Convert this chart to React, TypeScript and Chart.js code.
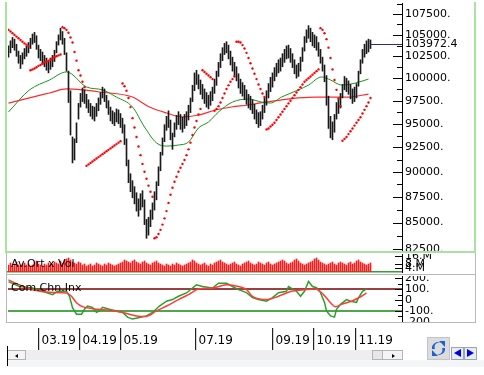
import React, { useEffect, useRef } from 'react';
import { Chart, registerables } from 'chart.js';
Chart.register(...registerables);

const FONT = '"DejaVu Sans", Verdana, sans-serif';
const X_MIN = -0.25;
const X_MAX = 196.75;

// ---- data ----
const monthTickIndex = [15.25, 35.75, 56.25, 93.75, 132.25, 152.75, 173.75];
const monthLabels = ['03.19', '04.19', '05.19', '07.19', '09.19', '10.19', '11.19'];

const priceHigh = [
  103700,104300,104700,104500,103900,103100,102600,102900,103400,103700,
  104100,104600,105100,105300,104900,103800,103300,103000,102600,102300,
  101900,102300,102600,103200,104200,105000,105800,105400,104600,102900,
  100800,98600,93600,93400,95100,97200,98300,98900,98700,98200,
  97600,97200,96900,96800,97200,97800,98400,99000,98800,98100,
  97500,96800,96400,96200,96600,96500,96100,95600,94900,93400,
  91200,89800,89100,88500,87900,87300,87800,88100,87200,85300,
  85500,86200,86900,88000,89000,90500,92000,93500,94900,95800,
  96400,95400,94000,95100,95900,96300,96000,95700,96000,96300,
  97000,97800,99200,100600,100900,100400,99800,99300,98800,98400,
  98100,98500,99000,99900,100800,101800,102800,103500,104000,104200,
  103800,103100,102400,101800,101300,100500,99900,99500,99200,98700,
  98200,98000,97600,97100,96500,96200,96300,97000,97800,98600,
  99400,100100,100600,101200,101700,102100,102300,102800,103300,103700,
  103800,103400,102800,102100,101500,101700,102400,103500,104800,105600,
  106100,105800,105300,105000,104800,104100,103300,102400,101500,100300,
  98000,95800,95200,96000,97300,97800,98300,99300,100200,100000,
  99700,99300,98800,99000,99400,100800,102100,103300,103900,104300,
  104500,104400,
];
const priceLow = [
  102400,102900,103500,103200,102500,101700,101100,101600,102200,102500,
  102900,103400,103900,104100,103300,102300,102000,101600,101300,100900,
  100600,101000,101300,101900,102900,103800,104400,103900,102700,100800,
  97300,93800,90900,91200,93000,95500,96800,97400,97200,96700,
  96200,95800,95500,95300,95800,96400,97100,97800,97400,96700,
  96000,95300,95000,94800,95200,95000,94600,94000,92800,90600,
  88900,88000,87400,86800,86100,85600,86200,86500,84800,83500,
  83800,84600,85300,86200,87200,88600,90100,91700,93100,94300,
  94600,93300,92300,93600,94400,94900,94400,94100,94500,94800,
  95400,96200,97400,98600,99300,98800,98200,97700,97200,96800,
  96600,97000,97500,98300,99200,100200,101200,102000,102700,102900,
  102200,101500,100800,100200,99700,98900,98300,98000,97600,97100,
  96700,96500,96100,95500,95000,94600,94800,95500,96200,97000,
  97800,98500,99000,99700,100200,100600,100800,101300,101800,102200,
  102300,101800,101200,100500,100000,100200,100800,101900,103100,104100,
  104600,104200,103700,103500,103200,102500,101700,100800,99600,97000,
  94500,93500,93300,94100,95500,96100,96700,97800,98700,98500,
  98200,97700,97200,97400,97800,99100,100500,101700,102400,102800,
  103000,103400,
];
const sarValues = [
  105600,105400,105200,105000,104800,104600,104400,104200,104000,103850,103700,
  100900,101000,101100,101250,101400,101500,101650,101800,101900,102000,102100,102250,102400,102500,102600,102700,
  105900,105800,105600,105250,104700,104100,103000,102000,100900,100300,99600,99000,
  90600,90750,90900,91050,91200,91350,91500,91650,91800,91950,92100,92250,92400,92550,92700,92850,93000,93150,
  99400,99100,98600,97800,96800,95600,94600,93600,92600,91700,90800,90000,89300,88600,88000,87500,
  83500,83600,83900,84300,84800,85400,86100,86900,87700,88400,89000,89500,90000,90400,90800,91200,91700,92300,93000,93800,94600,95300,96000,96600,
  100900,100700,100500,100300,100100,99900,
  96400,96600,96900,97300,97800,98300,98800,99200,99600,99900,100200,
  104200,104200,104100,103800,103400,102900,102300,101700,101100,100500,99900,99300,98800,98300,97900,
  94400,94500,94700,94900,95100,95400,95700,96000,96300,96600,96900,97200,97500,97800,98100,98400,98700,99000,99300,99600,99800,100000,100200,100400,100600,100800,101000,
  105800,105600,105200,104500,103500,102300,101000,99800,98700,97700,96900,
  93200,93400,93600,93900,94200,94500,94800,95100,95400,95700,96100,96500,96900,97300,97800,
];
const maGreenIdx = [0, 10.5, 20.5, 29, 39, 47, 54, 62, 68, 74, 79, 85, 90, 95, 100, 105, 112, 120, 126.5, 131, 136.5, 145, 150, 156.5, 161, 166.5, 173.5, 180];
const maGreenVal = [96270, 98690, 99800, 100710, 99020, 98690, 97900, 96810, 94650, 92970, 92640, 92750, 93060, 94550, 95190, 96270, 97350, 97680, 97350, 97240, 97900, 98690, 99230, 100140, 99800, 99230, 99460, 99910];
const maRedIdx = [0, 12, 20.5, 29, 37, 45.5, 62, 70.5, 79, 87, 95, 103.5, 111.5, 120, 128.5, 136.5, 145, 153.5, 161.5, 170, 180];
const maRedVal = [97240, 97900, 98350, 98800, 98690, 98460, 97900, 96810, 96160, 95730, 95940, 96480, 96810, 97030, 97350, 97580, 97800, 97900, 97900, 97900, 98230];
const volumeM = [
  7,9,6,8,10,7,6,8,9,7,
  8,6,7,9,11,8,7,6,8,7,
  9,7,8,10,9,8,11,9,12,13,
  14,12,10,9,8,10,9,7,8,6,
  7,8,6,7,9,8,7,6,8,7,
  9,8,7,6,7,8,9,10,12,11,
  10,9,11,12,10,9,8,10,11,9,
  8,7,9,10,11,9,8,7,6,8,
  7,6,8,7,9,8,7,6,7,8,
  9,10,12,11,9,8,7,8,9,7,
  6,8,7,9,10,11,12,10,9,8,
  7,8,9,10,8,7,6,8,9,10,
  11,9,8,7,8,10,9,8,7,9,
  10,8,7,8,9,10,11,12,11,9,
  8,9,10,12,13,11,9,8,7,8,
  9,10,11,13,14,12,10,9,8,7,
  8,9,10,8,7,9,10,9,8,7,
  9,10,8,9,11,12,10,9,8,7,
  8,9,
];
const cciIdx = [0, 5.5, 12, 17, 22, 24.5, 29, 30.5, 32, 34, 36.5, 38, 39.5, 42, 44, 45.5, 47, 50.5, 54, 57, 59.5, 62, 65.5, 69, 72, 75.5, 79, 82, 85, 89, 92, 94, 97, 102, 105, 109, 112, 115, 119, 122, 125, 129, 132, 135, 139, 140, 144, 146, 148, 150, 152, 154, 156, 158, 159, 161, 163, 164, 166, 169, 171, 174, 175, 177, 179];
const cciVal = [168, 123, 109, 79, 49, 79, 79, 34, -70, -129, -129, -85, -55, -67, -112, -100, -67, -85, -100, -112, -156, -174, -159, -145, -114, -55, -11, 4, 34, 64, 109, 138, 123, 109, 153, 153, 123, 94, 67, 22, 4, -11, 22, 67, 79, 123, 79, 34, 79, 168, 123, 112, 67, -22, -100, -145, -156, -85, -40, 4, -11, -22, 20, 79, 100];
const cciMaIdx = [0, 5.5, 12, 20.5, 29, 31.5, 34, 37, 42, 50.5, 57, 64, 69, 74, 79, 85, 90, 95, 102, 109, 115, 119, 122, 129, 135, 141.5, 148.5, 153.5, 157.5, 161, 163.5, 166.5, 171.5, 176.5, 179];
const cciMaVal = [183, 138, 94, 70, 64, 34, -25, -61, -79, -94, -114, -145, -150, -100, -55, 4, 49, 100, 109, 138, 123, 94, 34, 4, 34, 79, 94, 100, 49, -25, -61, -40, -11, 34, 64];

const priceTicks = [82500, 85000, 87500, 90000, 92500, 95000, 97500, 100000, 102500, 105000, 107500];
const priceMinorTicks = [83750, 86250, 88750, 91250, 93750, 96250, 98750, 101250, 103750, 106250, 108750];
const lastPrice = 103972.4;
const volTicks = [4, 8, 16];
const cciTicks = [-200, -100, 0, 100, 200];
const cciMinorTicks = [-150, -50, 50, 150];
const cciLevels = [100, -100];

// ---- plugins ----
const innerTicksPlugin = {
  id: 'innerTicks',
  afterDraw(chart: any, _args: any, opts: any) {
    if (!opts || !opts.major) return;
    const s = chart.scales.y;
    const ctx = chart.ctx;
    const x = chart.chartArea.right;
    ctx.save();
    ctx.strokeStyle = '#000';
    ctx.lineWidth = 1;
    const draw = (vals: number[], len: number) => {
      for (const v of vals) {
        const y = Math.round(s.getPixelForValue(v)) + 0.5;
        ctx.beginPath();
        ctx.moveTo(x - len, y);
        ctx.lineTo(x, y);
        ctx.stroke();
      }
    };
    draw(opts.major, opts.majorLen || 9);
    draw(opts.minor || [], opts.minorLen || 5);
    ctx.restore();
  },
};

const lastPricePlugin = {
  id: 'lastPrice',
  afterDraw(chart: any, _args: any, opts: any) {
    if (!opts || opts.value == null) return;
    const ctx = chart.ctx;
    const y = Math.round(chart.scales.y.getPixelForValue(opts.value)) + 0.5;
    const x0 = chart.scales.x.getPixelForValue(opts.index);
    const x1 = chart.chartArea.right;
    ctx.save();
    ctx.strokeStyle = '#2b2b8f';
    ctx.lineWidth = 1;
    ctx.beginPath();
    ctx.moveTo(x0, y);
    ctx.lineTo(x1, y);
    ctx.stroke();
    ctx.font = '11px ' + FONT;
    const text = opts.text;
    const w = ctx.measureText(text).width;
    ctx.fillStyle = '#fff';
    ctx.fillRect(x1 + 2, y - 6, w + 4, 12);
    ctx.fillStyle = '#000';
    ctx.textBaseline = 'middle';
    ctx.fillText(text, x1 + 3, y);
    ctx.restore();
  },
};

function xAxis(): any {
  return { type: 'linear', min: X_MIN, max: X_MAX, display: false, offset: false };
}

function rightAxis(extra: any): any {
  const { ticks, ...rest } = extra;
  return {
    position: 'right',
    grid: { display: true, drawOnChartArea: false, drawTicks: false },
    border: { display: true, color: '#000', width: 1 },
    ticks: { font: { family: FONT, size: 11 }, color: '#000', padding: 3, autoSkip: false, maxRotation: 0, ...(ticks || {}) },
    afterFit: (s: any) => { s.width = 74; s.paddingTop = 0; s.paddingBottom = 0; },
    ...rest,
  };
}

const baseOpts: any = {
  responsive: false,
  animation: false,
  devicePixelRatio: 1,
  events: [],
};

export default function App() {
  const priceRef = useRef<HTMLCanvasElement>(null);
  const volRef = useRef<HTMLCanvasElement>(null);
  const cciRef = useRef<HTMLCanvasElement>(null);
  const dateRef = useRef<HTMLCanvasElement>(null);

  useEffect(() => {
    const charts: Chart[] = [];

    charts.push(new Chart(priceRef.current as any, {
      type: 'bar',
      data: {
        datasets: [
          {
            type: 'line', label: 'SAR',
            data: sarValues.map((v, i) => ({ x: i, y: v })),
            showLine: false, pointRadius: 1.2, pointBackgroundColor: '#ff0000', pointBorderWidth: 0, order: 0,
          } as any,
          {
            type: 'bar', label: 'Price',
            data: priceHigh.map((h, i) => ({ x: i, y: [priceLow[i], h] })),
            backgroundColor: '#1a1a1a', barThickness: 1, order: 1,
          } as any,
          {
            type: 'line', label: 'MA1',
            data: maGreenIdx.map((x, k) => ({ x, y: maGreenVal[k] })),
            borderColor: '#1a961a', borderWidth: 1, pointRadius: 0, cubicInterpolationMode: 'monotone', order: 2,
          } as any,
          {
            type: 'line', label: 'MA2',
            data: maRedIdx.map((x, k) => ({ x, y: maRedVal[k] })),
            borderColor: '#ff2a2a', borderWidth: 1.2, pointRadius: 0, cubicInterpolationMode: 'monotone', order: 3,
          } as any,
        ],
      },
      options: {
        ...baseOpts,
        layout: { autoPadding: false, padding: { left: 8, right: 8, top: 3, bottom: 0 } },
        plugins: {
          legend: { display: false }, tooltip: { enabled: false },
          innerTicks: { major: priceTicks, minor: priceMinorTicks, majorLen: 9, minorLen: 5 },
          lastPrice: { value: lastPrice, index: priceHigh.length - 1, text: lastPrice.toFixed(1) },
        } as any,
        scales: {
          x: xAxis(),
          y: rightAxis({
            type: 'logarithmic', min: 82130, max: 108840,
            afterBuildTicks: (s: any) => { s.ticks = priceTicks.map(v => ({ value: v })); },
            ticks: { callback: (v: any) => v + '.' },
          }),
        },
      } as any,
      plugins: [innerTicksPlugin, lastPricePlugin],
    }));

    charts.push(new Chart(volRef.current as any, {
      type: 'bar',
      data: {
        datasets: [{
          label: 'Vol',
          data: volumeM.map((v, i) => ({ x: i, y: v })),
          backgroundColor: '#ff1a1a', barThickness: 1,
        } as any],
      },
      options: {
        ...baseOpts,
        layout: { autoPadding: false, padding: { left: 8, right: 8, top: 0, bottom: 1 } },
        plugins: {
          legend: { display: false }, tooltip: { enabled: false },
          innerTicks: { major: volTicks, minor: [], majorLen: 7 },
        } as any,
        scales: {
          x: {
            type: 'linear', min: X_MIN, max: X_MAX, display: true, offset: false,
            ticks: { display: false },
            grid: { display: true, drawOnChartArea: false, drawTicks: false },
            border: { display: true, color: '#33a033', width: 1.5 },
            afterFit: (s: any) => { s.height = 0; s.paddingLeft = 0; s.paddingRight = 0; },
          },
          y: rightAxis({
            type: 'linear', min: 0, max: 18,
            afterBuildTicks: (s: any) => { s.ticks = volTicks.map(v => ({ value: v })); },
            ticks: { callback: (v: any) => v + '.M' },
          }),
        },
      } as any,
      plugins: [innerTicksPlugin],
    }));

    charts.push(new Chart(cciRef.current as any, {
      type: 'line',
      data: {
        datasets: [
          {
            label: 'CCI', data: cciIdx.map((x, k) => ({ x, y: cciVal[k] })),
            borderColor: '#2aa02a', borderWidth: 1.5, pointRadius: 0, order: 1,
          } as any,
          {
            label: 'CCI MA', data: cciMaIdx.map((x, k) => ({ x, y: cciMaVal[k] })),
            borderColor: '#ff3b3b', borderWidth: 1.5, pointRadius: 0, cubicInterpolationMode: 'monotone', order: 0,
          } as any,
          {
            label: 'Upper', data: [{ x: X_MIN, y: cciLevels[0] }, { x: X_MAX, y: cciLevels[0] }],
            borderColor: '#7a0000', borderWidth: 1.5, pointRadius: 0, order: 2,
          } as any,
          {
            label: 'Lower', data: [{ x: X_MIN, y: cciLevels[1] }, { x: X_MAX, y: cciLevels[1] }],
            borderColor: '#138a13', borderWidth: 1.5, pointRadius: 0, order: 2,
          } as any,
        ],
      },
      options: {
        ...baseOpts,
        layout: { autoPadding: false, padding: { left: 8, right: 8, top: 0, bottom: 0 } },
        plugins: {
          legend: { display: false }, tooltip: { enabled: false },
          innerTicks: { major: cciTicks, minor: cciMinorTicks, majorLen: 7, minorLen: 4 },
        } as any,
        scales: {
          x: xAxis(),
          y: rightAxis({
            type: 'linear', min: -209.8, max: 218.75,
            afterBuildTicks: (s: any) => { s.ticks = cciTicks.map(v => ({ value: v })); },
            ticks: { callback: (v: any) => (v === 0 ? '0' : v + '.') },
          }),
        },
      } as any,
      plugins: [innerTicksPlugin],
    }));

    charts.push(new Chart(dateRef.current as any, {
      type: 'line',
      data: { datasets: [{ label: 'none', data: [] }] },
      options: {
        ...baseOpts,
        layout: { autoPadding: false, padding: { left: 8, right: 82, top: 0, bottom: 0 } },
        plugins: { legend: { display: false }, tooltip: { enabled: false } },
        scales: {
          x: {
            type: 'linear', min: X_MIN, max: X_MAX, position: 'bottom',
            afterBuildTicks: (s: any) => { s.ticks = monthTickIndex.map(v => ({ value: v })); },
            ticks: {
              autoSkip: false, maxRotation: 0, minRotation: 0, align: 'start', labelOffset: 2.5,
              mirror: true, padding: 2, font: { family: FONT, size: 12 }, color: '#000',
              callback: (_v: any, k: number) => monthLabels[k],
            },
            grid: { display: true, drawOnChartArea: true, drawTicks: false, color: '#222', lineWidth: 1.2 },
            border: { display: false },
            afterFit: (s: any) => { s.height = 0; s.paddingLeft = 0; s.paddingRight = 0; },
          },
          y: { display: false, min: 0, max: 1 },
        },
      } as any,
    }));

    return () => { charts.forEach(c => c.destroy()); };
  }, []);

  const abs = (l: number, t: number, w: number, h: number, extra: any = {}): any => ({
    position: 'absolute', left: l, top: t, width: w, height: h, ...extra,
  });
  const label = { fontFamily: FONT, fontSize: 11, color: '#000', lineHeight: '13px', whiteSpace: 'nowrap' };

  return (
    <div style={abs(0, 0, 484, 375, { background: '#fff', overflow: 'hidden' })}>
      <canvas ref={priceRef} width={484} height={253} style={abs(0, 0, 484, 253)} />
      <canvas ref={volRef} width={484} height={19} style={abs(0, 254, 484, 19)} />
      <canvas ref={cciRef} width={484} height={47} style={abs(0, 276, 484, 47)} />
      <canvas ref={dateRef} width={484} height={22} style={abs(0, 328, 484, 22)} />

      {/* panel frames */}
      <div style={abs(5, 2, 467, 249, { borderLeft: '2px solid #a8e3a0', borderRight: '2px solid #a8e3a0', borderBottom: '2px solid #a8e3a0' })} />
      <div style={abs(6, 253, 468, 21, { borderLeft: '1px solid #b8b8b8', borderRight: '1px solid #b8b8b8', borderBottom: '1px solid #b8b8b8' })} />
      <div style={abs(6, 275, 468, 47, { borderLeft: '1px solid #b8b8b8', borderRight: '1px solid #b8b8b8', borderBottom: '1px solid #b8b8b8' })} />

      {/* panel titles */}
      <div style={abs(11, 257, 100, 13, label)}>Av.Ort x Vol</div>
      <div style={abs(11, 281, 100, 13, label)}>Com.Chn.Inx</div>

      {/* scrollbar */}
      <div style={abs(7, 350, 395, 10, { background: '#eeeeee' })} />
      <div style={abs(7, 350, 17, 8, { background: '#f4f4f4', border: '1px solid #b4b4b4' })}>
        <div style={abs(7, 3, 0, 0, { borderTop: '2px solid transparent', borderBottom: '2px solid transparent', borderRight: '3px solid #000' })} />
      </div>
      <div style={abs(372, 350, 9, 8, { background: '#e6e6e6', border: '1px solid #b4b4b4' })} />
      <div style={abs(382, 350, 19, 8, { background: '#f4f4f4', border: '1px solid #b4b4b4' })}>
        <div style={abs(9, 3, 0, 0, { borderTop: '2px solid transparent', borderBottom: '2px solid transparent', borderLeft: '3px solid #000' })} />
      </div>
      <div style={abs(7, 360, 477, 7, { background: '#f3f5f7' })} />
      <div style={abs(7, 346, 1, 20, { background: '#000' })} />

      {/* buttons */}
      <div style={abs(427, 337, 21, 21, { background: '#dcdcdc', border: '1px solid #c4c4c4' })}>
        <svg width={21} height={21} viewBox="0 0 21 21" style={{ position: 'absolute', left: 0, top: 0 }}>
          <path d="M4 11 A6 6 0 0 1 13 5 L11 3 L17 3 L17 9 L15 7 A4 4 0 0 0 7 11 Z" fill="#1d5fd6" />
          <path d="M17 10 A6 6 0 0 1 8 16 L10 18 L4 18 L4 12 L6 14 A4 4 0 0 0 14 10 Z" fill="#1d5fd6" />
        </svg>
      </div>
      <div style={abs(451, 347, 11, 11, { background: '#e8edf3', border: '1px solid #9aa6b8' })}>
        <div style={abs(2, 1, 0, 0, { borderTop: '4.5px solid transparent', borderBottom: '4.5px solid transparent', borderRight: '7px solid #0000e0' })} />
      </div>
      <div style={abs(464, 347, 11, 11, { background: '#e8edf3', border: '1px solid #9aa6b8' })}>
        <div style={abs(2, 1, 0, 0, { borderTop: '4.5px solid transparent', borderBottom: '4.5px solid transparent', borderLeft: '7px solid #0000e0' })} />
      </div>
    </div>
  );
}
